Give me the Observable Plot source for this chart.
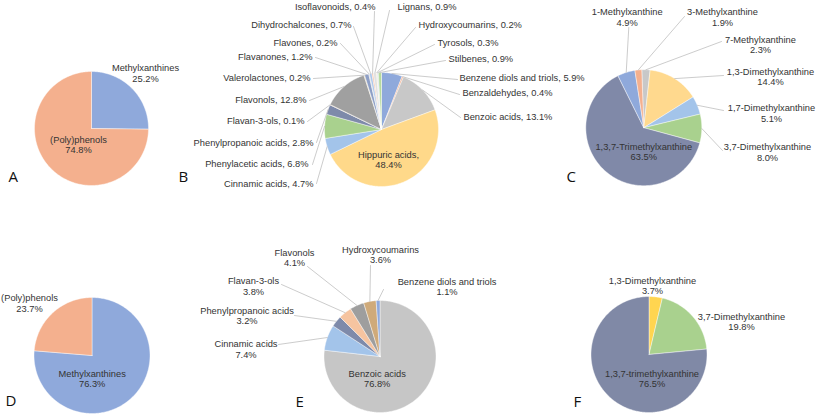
<!DOCTYPE html>
<html><head><meta charset="utf-8">
<script src="https://cdn.jsdelivr.net/npm/d3@7"></script>
<script src="https://cdn.jsdelivr.net/npm/@observablehq/plot@0.6"></script>
<style>html,body{margin:0;padding:0;background:#fff;} svg{display:block}</style>
</head><body><div id="chart"></div>
<script>
// ---------- data ----------
const aNames = ["Methylxanthines", "(Poly)phenols"];
const aValues = [25.2, 74.8];
const bNames = ["Benzene diols and triols","Benzaldehydes","Benzoic acids","Hippuric acids","Cinnamic acids","Phenylacetic acids","Phenylpropanoic acids","Flavan-3-ols","Flavonols","Valerolactones","Flavanones","Flavones","Dihydrochalcones","Isoflavonoids","Lignans","Hydroxycoumarins","Tyrosols","Stilbenes"];
const bValues = [5.9,0.4,13.1,48.4,4.7,6.8,2.8,0.1,12.8,0.2,1.2,0.2,0.7,0.4,0.9,0.2,0.3,0.9];
const cNames = ["7-Methylxanthine","1,3-Dimethylxanthine","1,7-Dimethylxanthine","3,7-Dimethylxanthine","1,3,7-Trimethylxanthine","1-Methylxanthine","3-Methylxanthine"];
const cValues = [2.3,14.4,5.1,8.0,63.5,4.9,1.9];
const dNames = ["Methylxanthines","(Poly)phenols"];
const dValues = [76.3,23.7];
const eNames = ["Benzoic acids","Cinnamic acids","Phenylpropanoic acids","Flavan-3-ols","Flavonols","Hydroxycoumarins","Benzene diols and triols"];
const eValues = [76.8,7.4,3.2,3.8,4.1,3.6,1.1];
const fNames = ["1,3-Dimethylxanthine","3,7-Dimethylxanthine","1,3,7-trimethylxanthine"];
const fValues = [3.7,19.8,76.5];
const panelLetters = ["A","B","C","D","E","F"];

// ---------- styles ----------
const aColors = ["#8FA9DB","#F4B08E"];
const bColors = ["#8FA9DB","#F4B08E","#C8C8C8","#FFD98A","#A3C4EA","#A9D18E","#7E8AAA","#C59A6E","#A0A0A0","#D8C28C","#8E9FC6","#B9B9B9","#ABC6EA","#F4BC9E","#E2E2E2","#FFE2A4","#C7D9F0","#B6DA9E"];
const cColors = ["#C8C8C8","#FFD98E","#A3C4EA","#A9D18E","#8089A8","#8FA9DB","#F4B08E"];
const dColors = ["#8FA9DB","#F4B08E"];
const eColors = ["#C6C6C6","#A3C4EA","#7E8AAA","#F6C4A0","#9E9E9E","#CFAA7A","#8FA9DB"];
const fColors = ["#FFD550","#A9D18E","#8089A6"];

// ---------- layout ----------
const geom = {
  A:{cx:91,cy:128,r:57,start:0},
  B:{cx:381,cy:129,r:57,start:0},
  C:{cx:643.3,cy:127.2,r:58,start:-2},
  D:{cx:91.5,cy:355,r:58,start:0},
  E:{cx:379.5,cy:356,r:56,start:0},
  F:{cx:648.5,cy:354,r:58,start:0}
};
const labelLayout = {
  A:[{x:145,y:72.7,a:"middle"},{x:78,y:144.2,a:"middle"}],
  B:[{x:459,y:77,a:"start",l:[457,79]},{x:462,y:92,a:"start",l:[459,94]},{x:463,y:116,a:"start",l:[460,117]},
     {x:388,y:159,a:"middle"},{x:313,y:183,a:"end",l:[316,183]},{x:308,y:163,a:"end",l:[312,164]},
     {x:313,y:142,a:"end",l:[316,142]},{x:304,y:120,a:"end",l:[307,121]},{x:306,y:99,a:"end",l:[309,100]},
     {x:310,y:77,a:"end",l:[313,78]},{x:312,y:56,a:"end",l:[315,57]},{x:337,y:42,a:"end",l:[340,43]},
     {x:351,y:24,a:"end",l:[353,26]},{x:375,y:6,a:"end",l:[374,11]},{x:397,y:6,a:"start",l:[389,10]},
     {x:418,y:24,a:"start",l:[415,27]},{x:437,y:42,a:"start",l:[434,44]},{x:448,y:58,a:"start",l:[445,60]}],
  C:[{x:760,y:44,a:"middle",l:[721,41]},{x:770,y:76.3,a:"middle",l:[723,75]},{x:771,y:112.8,a:"middle",l:[723,110]},
     {x:767,y:151.7,a:"middle",l:[722,150]},{x:643.3,y:151.3,a:"middle"},{x:626.7,y:16.7,a:"middle",l:[628.3,27]},
     {x:722,y:16.7,a:"middle",l:[684,16]}],
  D:[{x:91.7,y:378,a:"middle"},{x:29,y:302.7,a:"middle"}],
  E:[{x:376.7,y:378.3,a:"middle"},{x:245.5,y:348.7,a:"middle",l:[278,344]},{x:246.5,y:315.3,a:"middle",l:[294,315]},
     {x:253,y:285.7,a:"middle",l:[281,284]},{x:294,y:257.3,a:"middle",l:[307,266]},{x:380,y:254.5,a:"middle",l:[370,265]},
     {x:446.5,y:286.3,a:"middle",l:[383,289]}],
  F:[{x:652,y:285,a:"middle"},{x:741,y:321.2,a:"middle"},{x:651.5,y:378.3,a:"middle"}]
};
const letterPos = {A:[8,177],B:[178,177],C:[566,177],D:[5,401],E:[295,402],F:[573,402]};

const panels = [
  {id:"A",names:aNames,values:aValues,colors:aColors},
  {id:"B",names:bNames,values:bValues,colors:bColors},
  {id:"C",names:cNames,values:cValues,colors:cColors},
  {id:"D",names:dNames,values:dValues,colors:dColors},
  {id:"E",names:eNames,values:eValues,colors:eColors},
  {id:"F",names:fNames,values:fValues,colors:fColors}
];

const slicePts = [], leadPts = [], labels = [];
for (const p of panels) {
  const g = geom[p.id];
  const s = g.start*Math.PI/180;
  const arcs = d3.pie().sort(null).startAngle(s).endAngle(s+2*Math.PI)(p.values);
  arcs.forEach((a,i) => {
    const key = p.id+"-"+i, color = p.colors[i];
    slicePts.push({key,color,px:g.cx,py:g.cy});
    const n = Math.max(2, Math.ceil((a.endAngle-a.startAngle)/(Math.PI/180)));
    for (let k=0;k<=n;k++){
      const t = a.startAngle + (a.endAngle-a.startAngle)*k/n;
      slicePts.push({key,color,px:g.cx+g.r*Math.sin(t),py:g.cy-g.r*Math.cos(t)});
    }
    slicePts.push({key,color,px:g.cx,py:g.cy});
    const L = labelLayout[p.id][i];
    const v = p.values[i].toFixed(1)+"%";
    let text;
    if (p.id==="B") text = (i===3) ? `${p.names[i]},\n${v}` : `${p.names[i]}, ${v}`;
    else text = `${p.names[i]}\n${v}`;
    labels.push({x:L.x,y:L.y,a:L.a,text});
    if (L.l) {
      const m = (a.startAngle+a.endAngle)/2;
      leadPts.push({key:"L"+key,px:L.l[0],py:L.l[1]});
      leadPts.push({key:"L"+key,px:g.cx+g.r*Math.sin(m),py:g.cy-g.r*Math.cos(m)});
    }
  });
}
const letters = panelLetters.map(k => ({text:k,x:letterPos[k][0],y:letterPos[k][1]}));

const txt = (anchor) => Plot.text(labels.filter(d=>d.a===anchor),
  {x:"x",y:"y",text:"text",textAnchor:anchor,lineAnchor:"middle",lineHeight:1.1,fill:"#333333"});

const chart = Plot.plot({
  width:817, height:416, margin:0,
  x:{domain:[0,817],range:[0,817],axis:null},
  y:{domain:[0,416],range:[0,416],axis:null},
  color:{type:"identity"},
  style:{fontFamily:"'Liberation Sans', Arial, sans-serif",fontSize:"9.3px",background:"white",overflow:"visible"},
  marks:[
    Plot.line(slicePts,{x:"px",y:"py",z:"key",fill:"color",stroke:"white",strokeWidth:0.6,strokeOpacity:0.7}),
    Plot.line(leadPts,{x:"px",y:"py",z:"key",stroke:"#BFBFBF",strokeWidth:0.8}),
    txt("start"), txt("middle"), txt("end"),
    Plot.text(letters,{x:"x",y:"y",text:"text",textAnchor:"start",fontSize:15,fontFamily:"'Open Sans', sans-serif",fill:"#111"})
  ]
});
document.getElementById("chart").appendChild(chart);
</script>
</body></html>
